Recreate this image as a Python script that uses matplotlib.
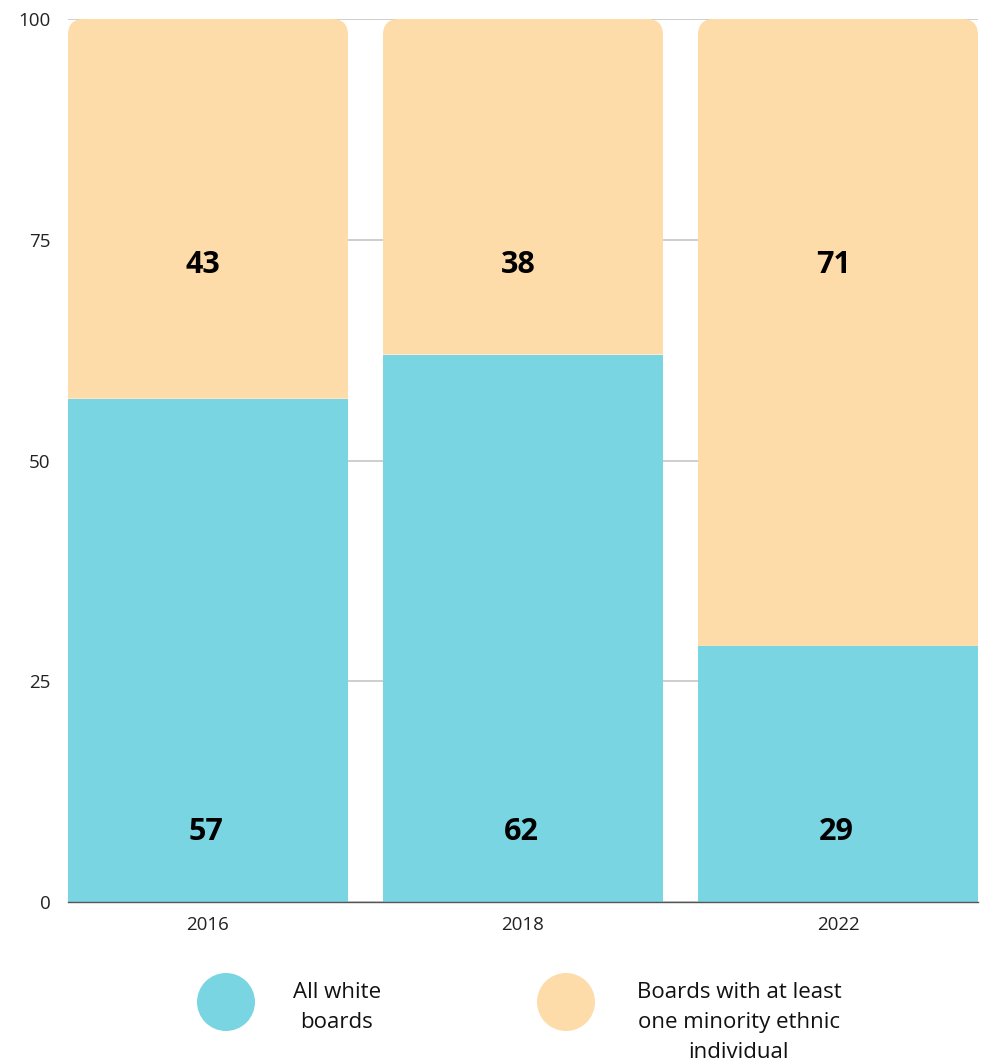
import matplotlib
matplotlib.use("Agg")
import matplotlib.pyplot as plt
from matplotlib.path import Path
from matplotlib.patches import PathPatch, Circle

years = ["2016", "2018", "2022"]
all_white = [57, 62, 29]
minority = [43, 38, 71]
series_labels = ["All white\nboards", "Boards with at least\none minority ethnic\nindividual"]
yticks = [0, 25, 50, 75, 100]

TEAL = "#79D5E2"
PEACH = "#FDDCAA"
FONT = "Open Sans"

W, H, DPI = 981, 1061, 100
fig = plt.figure(figsize=(W / DPI, H / DPI), dpi=DPI)
ax = fig.add_axes([68 / W, (H - 902) / H, (978 - 68) / W, (902 - 19) / H])

x = list(range(len(years)))
bw = 280 / 315
ax.set_xlim(-bw / 2, len(years) - 1 + bw / 2)
ax.set_ylim(0, 100)

ax.bar(x, all_white, width=bw, color=TEAL, zorder=2, linewidth=0)
tops = ax.bar(x, minority, bottom=all_white, width=bw, color=PEACH, zorder=2, linewidth=0)

# rounded top corners for top segments
fig.canvas.draw()
rpx = 16
x0d, x1d = ax.get_xlim()
ax_w = ax.get_window_extent().width
ax_h = ax.get_window_extent().height
rx = rpx / ax_w * (x1d - x0d)
ry = rpx / ax_h * 100
for rect in tops:
    bx, by = rect.get_x(), rect.get_y()
    w, h = rect.get_width(), rect.get_height()
    verts = [
        (bx, by), (bx + w, by), (bx + w, by + h - ry),
        (bx + w, by + h), (bx + w - rx, by + h),
        (bx + rx, by + h),
        (bx, by + h), (bx, by + h - ry),
        (bx, by), (bx, by),
    ]
    codes = [Path.MOVETO, Path.LINETO, Path.LINETO,
             Path.CURVE3, Path.CURVE3,
             Path.LINETO,
             Path.CURVE3, Path.CURVE3,
             Path.LINETO, Path.CLOSEPOLY]
    clip = PathPatch(Path(verts, codes), transform=ax.transData, visible=False)
    ax.add_patch(clip)
    rect.set_clip_path(clip)

# value labels
for xi, a, b in zip(x, all_white, minority):
    ax.text(xi - 0.005, 7.95, str(a), ha="center", va="center", fontsize=22,
            fontweight="bold", family=FONT, color="black", zorder=3)
    ax.text(xi - 0.015, 72.15, str(b), ha="center", va="center", fontsize=22,
            fontweight="bold", family=FONT, color="black", zorder=3)

ax.set_yticks(yticks)
ax.set_yticklabels([str(t) for t in yticks], family=FONT, fontsize=13.5, color="#222222")
ax.set_xticks(x)
ax.set_xticklabels(years, family=FONT, fontsize=13.5, color="#222222")
ax.tick_params(axis="both", length=0)
ax.tick_params(axis="y", pad=12.5)
ax.tick_params(axis="x", pad=10)
ax.yaxis.grid(True, color="#c6c6c6", linewidth=1.2, zorder=0)
ax.set_axisbelow(True)
for s in ["top", "right", "left"]:
    ax.spines[s].set_visible(False)
ax.spines["bottom"].set_color("#555555")
ax.spines["bottom"].set_linewidth(1)

# legend
tr = fig.dpi_scale_trans
fig.add_artist(Circle((226 / DPI, (H - 1002) / DPI), 29 / DPI, transform=tr,
                      color=TEAL, linewidth=0))
fig.add_artist(Circle((566 / DPI, (H - 1002) / DPI), 29 / DPI, transform=tr,
                      color=PEACH, linewidth=0))
fig.text(337 / W, (H - 982) / H, series_labels[0], ha="center", va="top",
         family=FONT, fontsize=16, linespacing=1.55, color="#111111")
fig.text(739 / W, (H - 982) / H, series_labels[1], ha="center", va="top",
         family=FONT, fontsize=16, linespacing=1.55, color="#111111")

fig.savefig("out.png", dpi=DPI)
